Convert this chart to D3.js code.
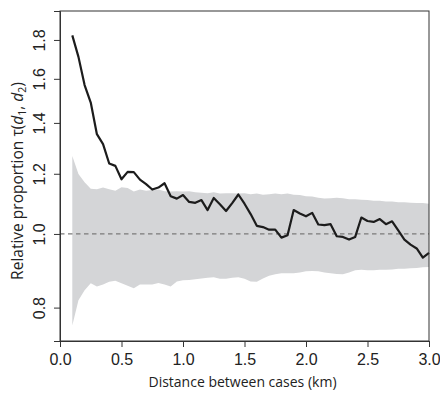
<!DOCTYPE html>
<html><head><meta charset="utf-8">
<script src="https://cdn.jsdelivr.net/npm/d3@7/dist/d3.min.js"></script>
<style>html,body{margin:0;padding:0;background:#fff;}svg{display:block;}</style>
</head><body><svg id="c" width="440" height="393"></svg>
<script>
const distance = [0.10,0.15,0.20,0.25,0.30,0.35,0.40,0.45,0.50,0.55,0.60,0.65,0.70,0.75,0.80,0.85,0.90,0.95,1.00,1.05,1.10,1.15,1.20,1.25,1.30,1.35,1.40,1.45,1.50,1.55,1.60,1.65,1.70,1.75,1.80,1.85,1.90,1.95,2.00,2.05,2.10,2.15,2.20,2.25,2.30,2.35,2.40,2.45,2.50,2.55,2.60,2.65,2.70,2.75,2.80,2.85,2.90,2.95,3.00];
const tau = [1.825,1.710,1.570,1.489,1.353,1.313,1.238,1.229,1.180,1.207,1.206,1.179,1.163,1.144,1.151,1.166,1.121,1.113,1.125,1.102,1.099,1.108,1.075,1.115,1.094,1.072,1.098,1.127,1.096,1.062,1.025,1.021,1.013,1.013,0.989,0.996,1.075,1.064,1.055,1.066,1.029,1.027,1.030,0.993,0.991,0.983,0.991,1.051,1.040,1.037,1.046,1.030,1.039,1.011,0.983,0.968,0.957,0.931,0.944];
const upper = [1.266,1.199,1.170,1.147,1.145,1.151,1.145,1.140,1.152,1.149,1.137,1.144,1.140,1.142,1.144,1.138,1.137,1.138,1.137,1.138,1.135,1.133,1.131,1.135,1.130,1.131,1.131,1.130,1.131,1.128,1.130,1.126,1.128,1.130,1.128,1.130,1.126,1.125,1.121,1.120,1.116,1.113,1.114,1.116,1.114,1.111,1.111,1.109,1.108,1.106,1.106,1.103,1.103,1.101,1.101,1.099,1.098,1.098,1.096];
const lower = [0.758,0.818,0.843,0.861,0.853,0.858,0.865,0.868,0.861,0.855,0.848,0.858,0.858,0.858,0.862,0.858,0.853,0.866,0.869,0.870,0.872,0.874,0.876,0.877,0.873,0.873,0.876,0.877,0.873,0.866,0.865,0.874,0.881,0.885,0.888,0.888,0.888,0.890,0.893,0.894,0.893,0.890,0.888,0.886,0.885,0.890,0.896,0.897,0.896,0.896,0.897,0.897,0.898,0.900,0.900,0.901,0.902,0.904,0.905];
const xTicks = [0,0.5,1.0,1.5,2.0,2.5,3.0];
const yTicks = [0.8,1.0,1.2,1.4,1.6,1.8];
const refValue = 1.0;

const L=60,R=429,T=11,B=341;
const svg=d3.select("#c");
const x=d3.scaleLinear().domain([0,3]).range([L,R]);
const y=d3.scaleLog().domain([0.723,1.965]).range([B,T]);
const data=distance.map((d,i)=>({d,t:tau[i],u:upper[i],l:lower[i]}));

svg.append("path").datum(data)
  .attr("d",d3.area().x(d=>x(d.d)).y0(d=>y(d.l)).y1(d=>y(d.u)))
  .attr("fill","#d4d5d7");
svg.append("line").attr("x1",L).attr("x2",R).attr("y1",y(refValue)).attr("y2",y(refValue))
  .attr("stroke","#7a7a7a").attr("stroke-width",1.3).attr("stroke-dasharray","4.5,3.5");
svg.append("path").datum(data)
  .attr("d",d3.line().x(d=>x(d.d)).y(d=>y(d.t)))
  .attr("fill","none").attr("stroke","#1c1c1c").attr("stroke-width",2.2).attr("stroke-linejoin","round");

svg.append("rect").attr("x",L).attr("y",T).attr("width",R-L).attr("height",B-T)
  .attr("fill","none").attr("stroke","#333").attr("stroke-width",1);

const xa=svg.append("g").attr("transform",`translate(0,${B})`)
  .call(d3.axisBottom(x).tickValues(xTicks).tickFormat(d3.format(".1f")).tickSize(6).tickPadding(7));
const ya=svg.append("g").attr("transform",`translate(${L},0)`)
  .call(d3.axisLeft(y).tickValues(yTicks).tickFormat(d3.format(".1f")).tickSize(6).tickPadding(4));
[xa,ya].forEach(g=>{g.select(".domain").attr("stroke","#333");g.selectAll(".tick line").attr("stroke","#333");
  g.selectAll("text").attr("font-family","'Liberation Sans',Arial,sans-serif").attr("font-size",16).attr("fill","#222");});
ya.selectAll(".tick text").attr("transform","rotate(-90)")
  .attr("x",0).attr("dy",0).attr("y",-15).attr("text-anchor","middle");

svg.append("text").attr("x",(L+R)/2-2).attr("y",387).attr("text-anchor","middle")
  .attr("font-family","'Open Sans',sans-serif").attr("font-size",14).attr("fill","#222")
  .text("Distance between cases (km)");

const yt=svg.append("text").attr("transform",`translate(23,181) rotate(-90)`).attr("text-anchor","middle")
  .attr("font-family","'Open Sans',sans-serif").attr("font-size",15.5).attr("fill","#222");
yt.append("tspan").text("Relative proportion τ(");
yt.append("tspan").attr("font-style","italic").text("d");
yt.append("tspan").attr("font-size",10.5).attr("dy",3).text("1");
yt.append("tspan").attr("dy",-3).text(", ");
yt.append("tspan").attr("font-style","italic").text("d");
yt.append("tspan").attr("font-size",10.5).attr("dy",3).text("2");
yt.append("tspan").attr("dy",-3).text(")");
</script></body></html>
